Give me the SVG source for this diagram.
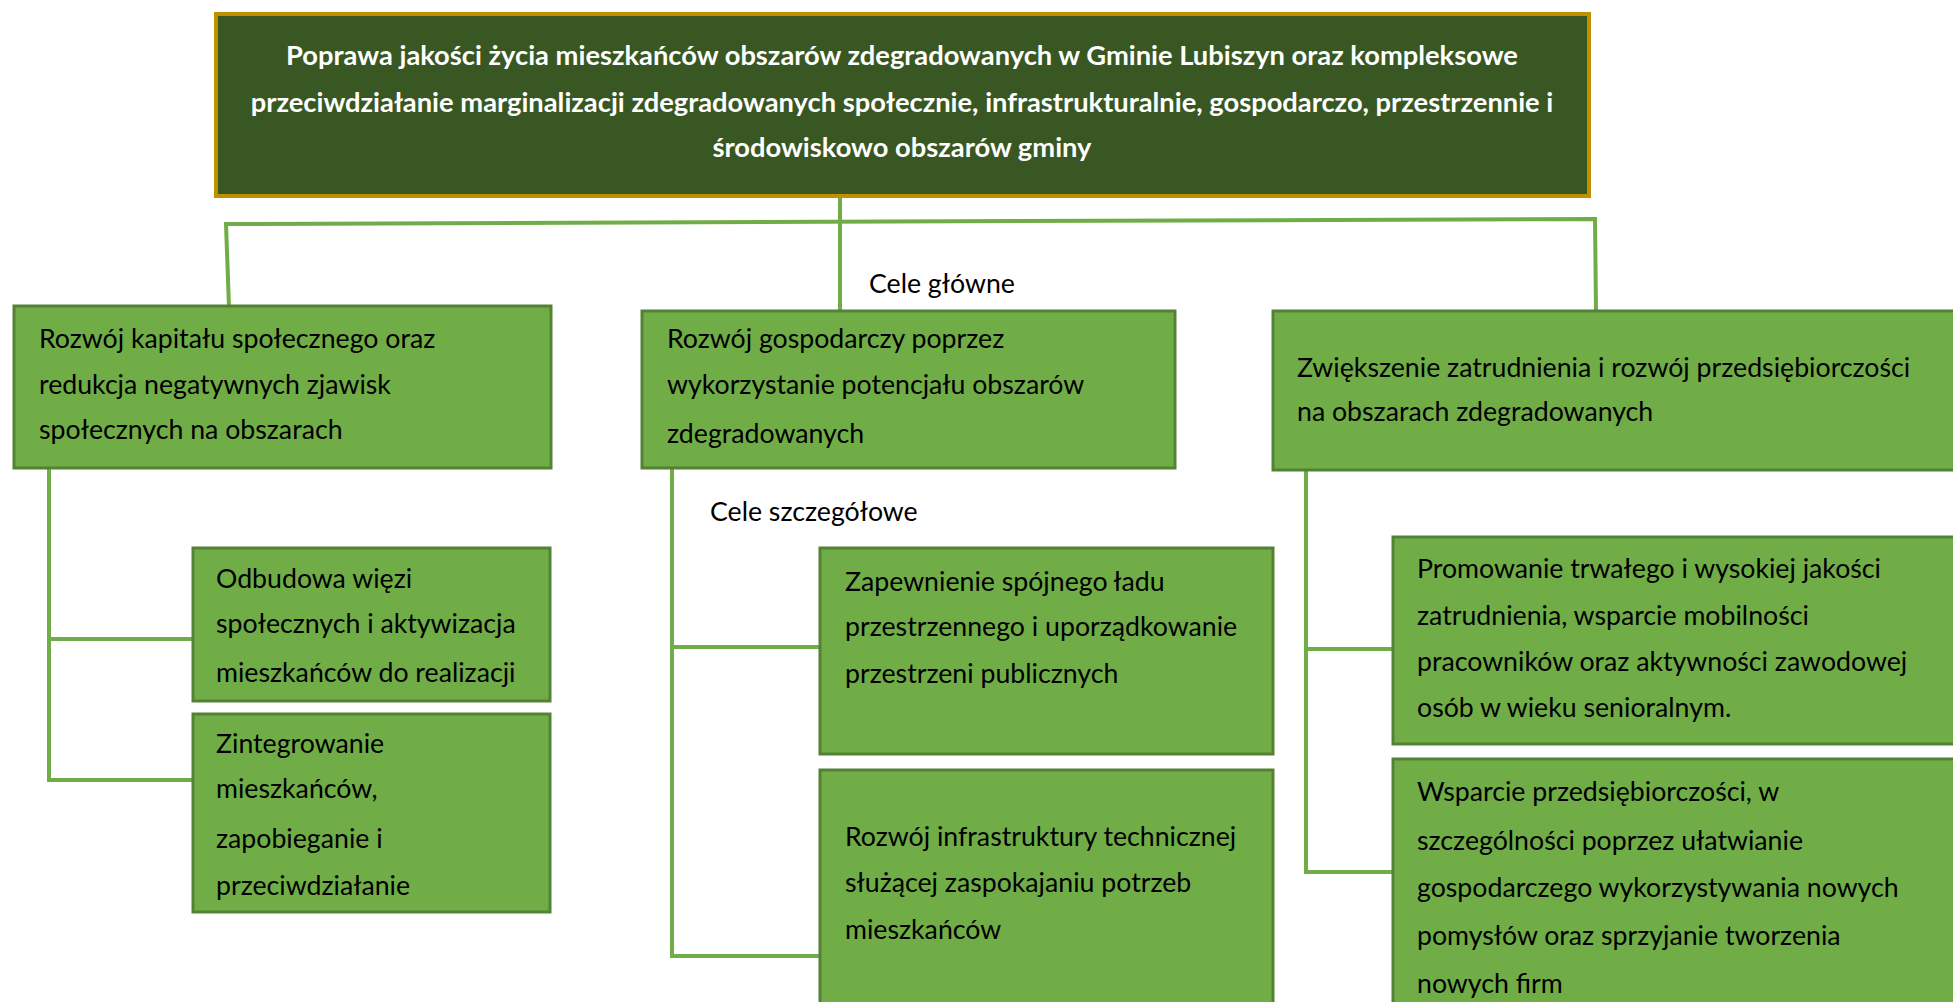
<svg xmlns="http://www.w3.org/2000/svg" width="1953" height="1002" viewBox="0 0 1953 1002">
<style>
.conn{fill:none;stroke:#70ad47;stroke-width:4;stroke-linejoin:miter}
.box{fill:#70ad47;stroke:#548235;stroke-width:3}
.top{fill:#385723;stroke:#bf9000;stroke-width:4}
.t{font-family:Lato,"Open Sans","DejaVu Sans",sans-serif;font-size:26.7px;fill:#000}
.tt{font-family:Lato,"Open Sans","DejaVu Sans",sans-serif;font-size:27.3px;font-weight:bold;fill:#fff;text-anchor:middle}
</style>
<rect width="1953" height="1002" fill="#fff"/>
<g id="connectors">
<path class="conn" d="M229,307 L226,224 L1595,219 L1596,311"/>
<path class="conn" d="M840,197 L840,311"/>
<path class="conn" d="M49,468 L49,780 L193,780 M49,639 L193,639"/>
<path class="conn" d="M672,468 L672,956 L820,956 M672,647 L820,647"/>
<path class="conn" d="M1306,470 L1306,872 L1393,872 M1306,649 L1393,649"/>
</g>
<g id="root">
<rect class="top" x="216" y="14" width="1373" height="182"/>
<text class="tt" x="902" y="65">Poprawa jakości życia mieszkańców obszarów zdegradowanych w Gminie Lubiszyn oraz kompleksowe</text>
<text class="tt" x="902" y="112">przeciwdziałanie marginalizacji zdegradowanych społecznie, infrastrukturalnie, gospodarczo, przestrzennie i</text>
<text class="tt" x="902" y="157">środowiskowo obszarów gminy</text>
</g>
<g id="label-main"><text class="t" x="869" y="293">Cele główne</text></g>
<g id="label-detail"><text class="t" x="710" y="521">Cele szczegółowe</text></g>
<g id="L1">
<rect class="box" x="14" y="306" width="537" height="162"/>
<text class="t" x="39" y="348">Rozwój kapitału społecznego oraz</text>
<text class="t" x="39" y="394">redukcja negatywnych zjawisk</text>
<text class="t" x="39" y="439">społecznych na obszarach</text>
</g>
<g id="M1">
<rect class="box" x="642" y="311" width="533" height="157"/>
<text class="t" x="667" y="348">Rozwój gospodarczy poprzez</text>
<text class="t" x="667" y="394">wykorzystanie potencjału obszarów</text>
<text class="t" x="667" y="443">zdegradowanych</text>
</g>
<g id="R1">
<rect class="box" x="1273" y="311" width="700" height="159"/>
<text class="t" x="1297" y="377">Zwiększenie zatrudnienia i rozwój przedsiębiorczości</text>
<text class="t" x="1297" y="421">na obszarach zdegradowanych</text>
</g>
<g id="L2">
<rect class="box" x="193" y="548" width="357" height="153"/>
<text class="t" x="216" y="588">Odbudowa więzi</text>
<text class="t" x="216" y="633">społecznych i aktywizacja</text>
<text class="t" x="216" y="682">mieszkańców do realizacji</text>
</g>
<g id="L3">
<rect class="box" x="193" y="714" width="357" height="198"/>
<text class="t" x="216" y="753">Zintegrowanie</text>
<text class="t" x="216" y="798">mieszkańców,</text>
<text class="t" x="216" y="848">zapobieganie i</text>
<text class="t" x="216" y="895">przeciwdziałanie</text>
</g>
<g id="M2">
<rect class="box" x="820" y="548" width="453" height="206"/>
<text class="t" x="845" y="591">Zapewnienie spójnego ładu</text>
<text class="t" x="845" y="636">przestrzennego i uporządkowanie</text>
<text class="t" x="845" y="683">przestrzeni publicznych</text>
</g>
<g id="M3">
<rect class="box" x="820" y="770" width="453" height="250"/>
<text class="t" x="845" y="846">Rozwój infrastruktury technicznej</text>
<text class="t" x="845" y="892">służącej zaspokajaniu potrzeb</text>
<text class="t" x="845" y="939">mieszkańców</text>
</g>
<g id="R2">
<rect class="box" x="1393" y="537" width="580" height="207"/>
<text class="t" x="1417" y="578">Promowanie trwałego i wysokiej jakości</text>
<text class="t" x="1417" y="625">zatrudnienia, wsparcie mobilności</text>
<text class="t" x="1417" y="671">pracowników oraz aktywności zawodowej</text>
<text class="t" x="1417" y="717">osób w wieku senioralnym.</text>
</g>
<g id="R3">
<rect class="box" x="1393" y="759" width="580" height="260"/>
<text class="t" x="1417" y="801">Wsparcie przedsiębiorczości, w</text>
<text class="t" x="1417" y="850">szczególności poprzez ułatwianie</text>
<text class="t" x="1417" y="897">gospodarczego wykorzystywania nowych</text>
<text class="t" x="1417" y="945">pomysłów oraz sprzyjanie tworzenia</text>
<text class="t" x="1417" y="993">nowych firm</text>
</g>
</svg>
